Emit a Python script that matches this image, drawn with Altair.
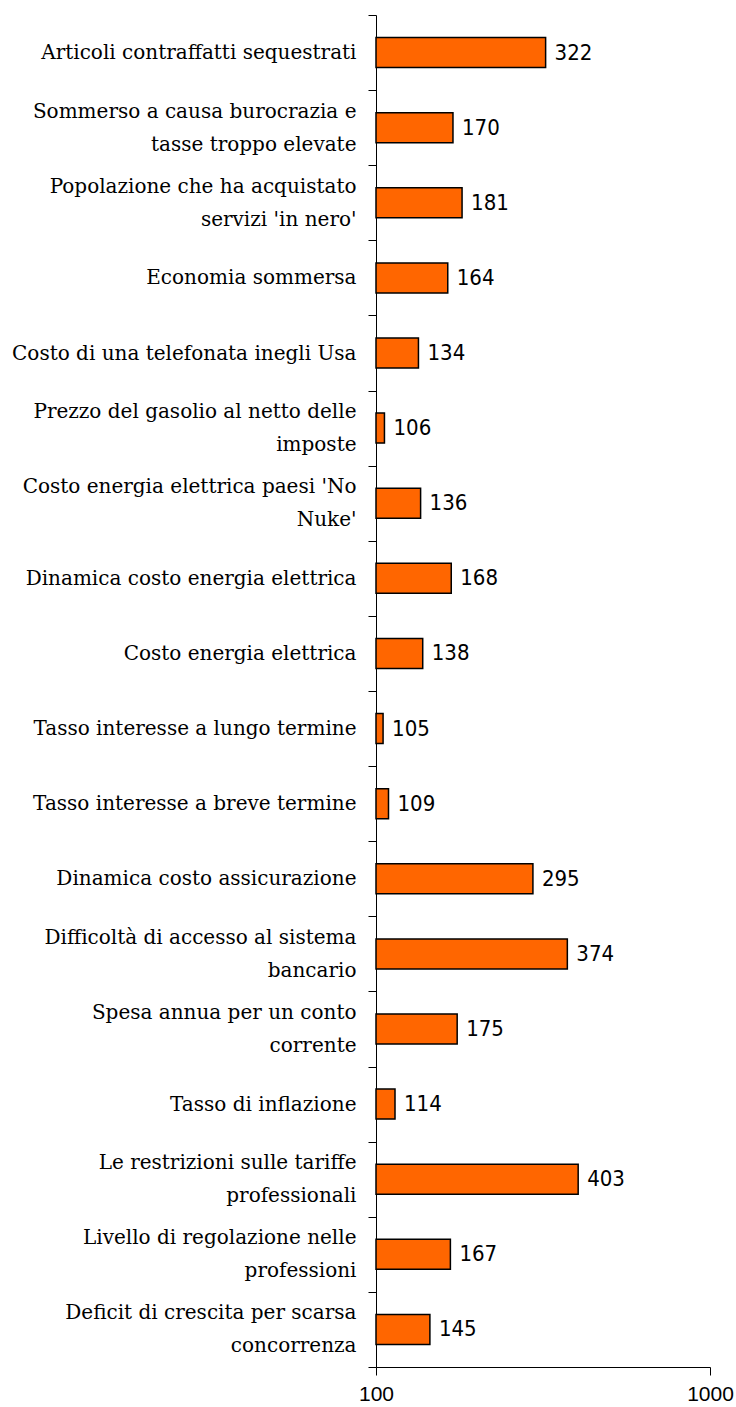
import altair as alt
import pandas as pd

# Indicator names (a "\n" marks where the label wraps) and index values (base 100)
indicators = [
    "Articoli contraffatti sequestrati",
    "Sommerso a causa burocrazia e\ntasse troppo elevate",
    "Popolazione che ha acquistato\nservizi 'in nero'",
    "Economia sommersa",
    "Costo di una telefonata inegli Usa",
    "Prezzo del gasolio al netto delle\nimposte",
    "Costo energia elettrica paesi 'No\nNuke'",
    "Dinamica costo energia elettrica",
    "Costo energia elettrica",
    "Tasso interesse a lungo termine",
    "Tasso interesse a breve termine",
    "Dinamica costo assicurazione",
    "Difficoltà di accesso al sistema\nbancario",
    "Spesa annua per un conto\ncorrente",
    "Tasso di inflazione",
    "Le restrizioni sulle tariffe\nprofessionali",
    "Livello di regolazione nelle\nprofessioni",
    "Deficit di crescita per scarsa\nconcorrenza",
]
values = [322, 170, 181, 164, 134, 106, 136, 168, 138, 105, 109, 295, 374, 175, 114, 403, 167, 145]
x_ticks = [100, 1000]

df = pd.DataFrame({"indicatore": indicators, "valore": values})
df["base"] = 100

# wrapped labels are lifted by half a line so the block sits on the band centre
two_lines = "isValid(datum.value) && indexof(datum.value, '\\n') >= 0"

y_axis = alt.Axis(
    tickBand="extent",
    tickSize=8,
    tickColor="#000000",
    tickWidth=1,
    domainColor="#000000",
    domainWidth=1,
    grid=False,
    labelFont="DejaVu Serif",
    labelFontSize=20,
    labelColor="#000000",
    labelPadding=12,
    labelLimit=400,
    labelLineHeight=33,
    labelBaseline="middle",
    labelOffset={"condition": {"test": two_lines, "value": -16.5}, "value": 0},
    labelExpr="datum.value ? split(datum.value, '\\n') : ''",
)

x_axis = alt.Axis(
    values=x_ticks,
    format="d",
    grid=False,
    tickSize=8,
    tickColor="#000000",
    domainColor="#000000",
    labelFont="Liberation Sans",
    labelFontSize=21,
    labelColor="#000000",
    labelPadding=8,
    labelFlush=False,
)

x_scale = alt.Scale(type="log", domain=[100, 1000])
y_scale = alt.Scale(paddingInner=0, paddingOuter=0)

bars = alt.Chart(df).mark_bar(
    color="#FF6600", stroke="#000000", strokeWidth=1.5, size=30
).encode(
    x=alt.X("valore:Q", scale=x_scale, title=None, axis=x_axis),
    x2="base:Q",
    y=alt.Y("indicatore:N", sort=None, title=None, scale=y_scale, axis=y_axis),
)

labels = alt.Chart(df).mark_text(
    align="left",
    baseline="middle",
    dx=9,
    font="Liberation Sans Narrow, DejaVu Sans Condensed, Liberation Sans, sans-serif",
    fontSize=22,
    color="#000000",
).encode(
    x=alt.X("valore:Q", scale=x_scale, title=None, axis=x_axis),
    y=alt.Y("indicatore:N", sort=None, title=None, scale=y_scale, axis=y_axis),
    text=alt.Text("valore:Q", format="d"),
)

chart = (
    alt.layer(bars, labels)
    .properties(
        width=334,
        height=1352,
        background="#ffffff",
        autosize=alt.AutoSizeParams(type="none"),
        padding={"left": 376, "top": 15, "right": 26, "bottom": 40},
    )
    .configure_view(stroke=None, strokeWidth=0)
    .configure_axis(grid=False)
)

chart.save("out.html", embed_options={"renderer": "svg", "actions": False})
